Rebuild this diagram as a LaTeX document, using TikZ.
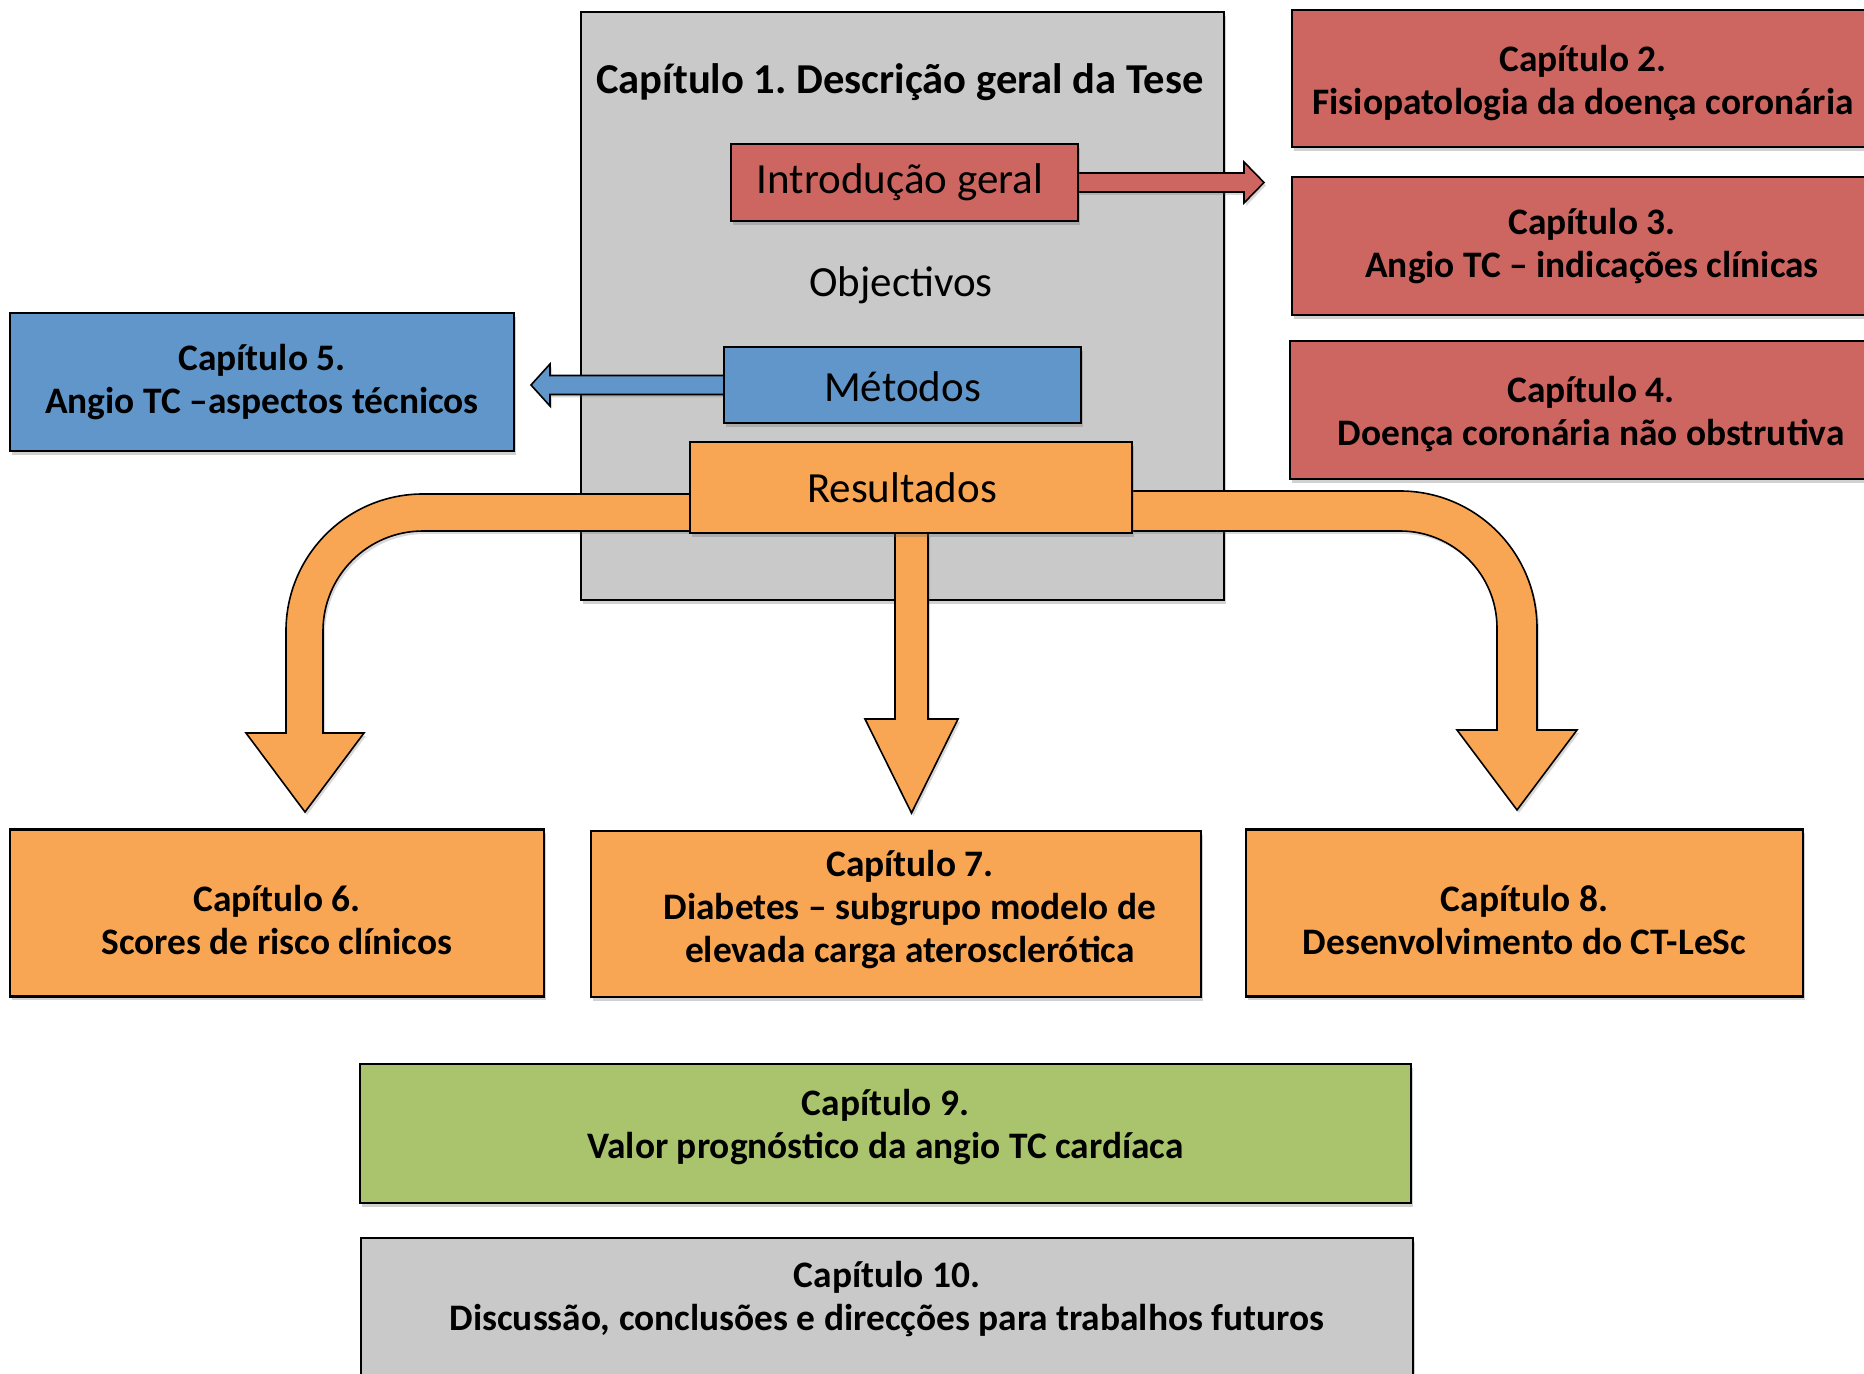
\documentclass[tikz,border=0pt]{standalone}
\usepackage{fontspec}
\setmainfont{Carlito}
\usetikzlibrary{shadows,calc}
\definecolor{cgrey}{RGB}{201,201,201}
\definecolor{cred}{RGB}{205,102,96}
\definecolor{cblue}{RGB}{96,150,201}
\definecolor{corange}{RGB}{249,166,84}
\definecolor{cgreen}{RGB}{169,196,108}
\frenchspacing
\begin{document}
\begin{tikzpicture}[x=0.5pt,y=-0.5pt,
  box/.style={draw=black, line width=1.1pt, inner sep=0pt, align=center,
    drop shadow={shadow xshift=1.2pt, shadow yshift=-1.8pt, opacity=0.3, fill=black!60}},
  chaptext/.style={font=\fontsize{18.7}{21.5}\selectfont\bfseries, align=center, inner sep=0pt},
  bigtext/.style={font=\fontsize{21.5}{26}\selectfont},
  blockarrow/.style={draw=black, line width=0.8pt, line join=miter,
    drop shadow={shadow xshift=1pt, shadow yshift=-1.5pt, opacity=0.25, fill=black!60}}]
\useasboundingbox (0,0) rectangle (1864,1374);
\clip (0,0) rectangle (1864,1374);

% Chapter 1 container
\node[box, fill=cgrey, minimum width=321.5pt, minimum height=294pt] (c1) at (902.5,306) {};
\node[font=\fontsize{21.3}{25}\selectfont\bfseries] (c1title) at (900,82) {Capítulo 1. Descrição geral da Tese};
\node[bigtext] (obj) at (901,285) {Objectivos};

% red arrow from Introducao geral
\coordinate (intro east) at (1078,182.5);
\draw[blockarrow, fill=cred] ($(intro east)+(0,-9.5)$) -- (1244,173) -- (1244,162) -- (1264,182.5)
  -- (1244,203) -- (1244,192) -- ($(intro east)+(0,9.5)$);
\node[box, fill=cred, minimum width=173.5pt, minimum height=38.5pt] (intro) at (904.5,182.5) {};
\node[bigtext] (introlabel) at (900,182.5) {Introdução geral};

% blue arrow from Metodos
\coordinate (met west) at (724,385);
\draw[blockarrow, fill=cblue] ($(met west)+(0,-9.5)$) -- (550,375.5) -- (550,364) -- (531,385)
  -- (550,406) -- (550,394.5) -- ($(met west)+(0,9.5)$);
\node[box, fill=cblue, minimum width=178.5pt, minimum height=38pt] (met) at (902.5,385) {};
\node[bigtext] (metlabel) at (902.5,387) {Métodos};

% orange arrows from Resultados
\draw[blockarrow, fill=corange] (691,494) -- (423,494) arc[start angle=270, end angle=180, radius=137]
  -- (286,733) -- (246,733) -- (305,812) -- (364,733) -- (323,733)
  -- (323,631) arc[start angle=180, end angle=270, radius=100] -- (691,531);
\draw[blockarrow, fill=corange] (1132,491) -- (1400,491) arc[start angle=270, end angle=360, radius=137]
  -- (1537,730) -- (1577,730) -- (1517,810) -- (1457,730) -- (1497,730)
  -- (1497,628) arc[start angle=360, end angle=270, radius=97] -- (1132,531);
\draw[blockarrow, fill=corange] (895,533) -- (895,719) -- (865,719) -- (911.5,813) -- (958,719)
  -- (928,719) -- (928,533);
\node[box, fill=corange, minimum width=221pt, minimum height=45.5pt] (res) at (911,487.5) {};
\node[bigtext] (reslabel) at (902,488) {Resultados};

% right red chapters
\node[box, fill=cred, minimum width=296pt, minimum height=68.5pt] (c2) at (1588,78.5) {};
\node[chaptext] (c2label) at ($(c2.center)+(-5,5)$) {Capítulo 2.\\Fisiopatologia da doença coronária};
\node[box, fill=cred, minimum width=296pt, minimum height=69pt] (c3) at (1588,246) {};
\node[chaptext] (c3label) at ($(c3.center)+(4,0)$) {Capítulo 3.\\Angio TC – indicações clínicas};
\node[box, fill=cred, minimum width=297pt, minimum height=69pt] (c4) at (1587,410) {};
\node[chaptext] (c4label) at ($(c4.center)+(4,4)$) {Capítulo 4.\\Doença coronária não obstrutiva};

% blue chapter
\node[box, fill=cblue, minimum width=252pt, minimum height=69pt] (c5) at (262,382) {};
\node[chaptext] (c5label) at (c5.center) {Capítulo 5.\\Angio TC –aspectos técnicos};

% orange chapters
\node[box, fill=corange, minimum width=267pt, minimum height=83.5pt] (c6) at (277,913) {};
\node[chaptext] (c6label) at ($(c6.center)+(0,7)$) {Capítulo 6.\\Scores de risco clínicos};
\node[box, fill=corange, minimum width=305pt, minimum height=83pt] (c7) at (896,914) {};
\node[chaptext] (c7label) at ($(c7.center)+(14,-4)$) {Capítulo 7.\\Diabetes – subgrupo modelo de\\elevada carga aterosclerótica};
\node[box, fill=corange, minimum width=278.5pt, minimum height=83.5pt] (c8) at (1524.5,913) {};
\node[chaptext] (c8label) at ($(c8.center)+(0,7)$) {Capítulo 8.\\Desenvolvimento do CT-LeSc};

% green chapter
\node[box, fill=cgreen, minimum width=525.5pt, minimum height=69.5pt] (c9) at (885.5,1133.5) {};
\node[chaptext] (c9label) at ($(c9.center)+(0,-6)$) {Capítulo 9.\\Valor prognóstico da angio TC cardíaca};

% grey chapter 10
\node[box, fill=cgrey, minimum width=526pt, minimum height=75pt] (c10) at (887,1313) {};
\node[chaptext] (c10label) at (887,1299) {Capítulo 10.\\Discussão, conclusões e direcções para trabalhos futuros};
\end{tikzpicture}
\end{document}
